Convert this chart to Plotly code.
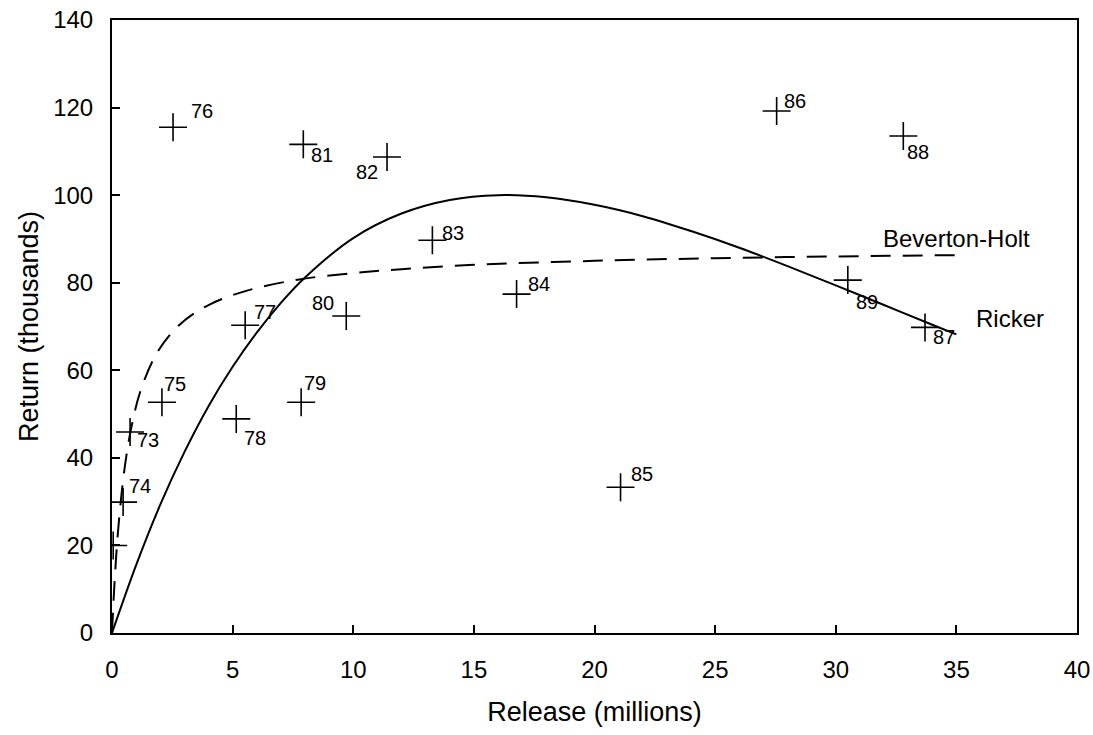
import plotly.graph_objects as go

# Observed points (release in millions, return in thousands), labelled by year
years = ["", "73", "74", "75", "76", "77", "78", "79", "80", "81", "82", "83", "84", "85", "86", "87", "88", "89"]
release = [0.05, 0.75, 0.46, 2.07, 2.53, 5.52, 5.15, 7.84, 9.71, 7.93, 11.4, 13.28, 16.77, 21.08, 27.55, 33.7, 32.8, 30.5]
ret = [20.0, 45.9, 29.9, 52.7, 115.5, 70.3, 48.9, 52.7, 72.4, 111.6, 108.7, 89.7, 77.4, 33.3, 119.2, 69.8, 113.5, 80.6]

# Ricker curve
ricker_x = [0, 1, 2, 3, 4, 5, 6, 7, 8, 10, 12, 14, 16, 18, 20, 22, 24, 26, 28, 30, 32, 34, 35]
ricker_y = [0, 15.5, 29.3, 41.3, 51.8, 60.8, 68.6, 75.4, 81.2, 90.2, 95.8, 98.9, 100.0, 99.5, 97.8, 95.2, 91.8, 88.0, 83.8, 79.4, 74.9, 70.4, 68.2]

# Beverton-Holt curve
bh_x = [0, 0.1, 0.25, 0.5, 0.8, 1.2, 1.9, 2.8, 4, 5.6, 7.7, 10, 12, 15, 20, 25, 30, 35]
bh_y = [0, 11.0, 23.2, 36.7, 46.9, 55.6, 64.3, 70.4, 74.9, 78.2, 80.7, 82.2, 83.1, 84.1, 85.0, 85.6, 86.0, 86.3]

# label offsets in pixels (dx, dy up)
label_offsets = {
    "73": (18, -8), "74": (17, 16), "75": (13, 18), "76": (29, 16), "77": (20, 13),
    "78": (19, -19), "79": (14, 19), "80": (-23, 13), "81": (19, -11), "82": (-20, -15),
    "83": (21, 7), "84": (22, 10), "85": (21, 13), "86": (18, 10), "87": (19, -10),
    "88": (15, -16), "89": (19, -22),
}

FONT = "Liberation Sans, Arial, sans-serif"

fig = go.Figure()
fig.add_trace(go.Scatter(x=ricker_x, y=ricker_y, mode="lines", line=dict(color="black", width=2, shape="spline"),
                         hoverinfo="skip", showlegend=False))
fig.add_trace(go.Scatter(x=bh_x, y=bh_y, mode="lines", line=dict(color="black", width=2, dash="20px,12px", shape="spline"),
                         hoverinfo="skip", showlegend=False))
fig.add_trace(go.Scatter(x=release, y=ret, mode="markers",
                         marker=dict(symbol="cross-thin", size=20, line=dict(color="black", width=1.6)),
                         showlegend=False))

for yr, xv, yv in zip(years, release, ret):
    if not yr:
        continue
    dx, dy = label_offsets[yr]
    fig.add_annotation(x=xv, y=yv, text=yr, showarrow=False, xshift=dx, yshift=dy,
                       font=dict(family=FONT, size=20, color="black"))

fig.add_annotation(x=ricker_x[-1], y=bh_y[-1], text="Beverton-Holt", showarrow=False, xshift=0, yshift=17,
                   font=dict(family=FONT, size=24, color="black"))
fig.add_annotation(x=ricker_x[-1], y=ricker_y[-1], text="Ricker", showarrow=False, xshift=54, yshift=16,
                   font=dict(family=FONT, size=24, color="black"))

fig.update_layout(
    width=1093, height=735,
    margin=dict(l=112, r=16, t=20, b=102, autoexpand=False),
    paper_bgcolor="white", plot_bgcolor="white",
    font=dict(family=FONT, size=24, color="black"),
    xaxis=dict(range=[0, 40], tickvals=[0, 5, 10, 15, 20, 25, 30, 35, 40], showgrid=False, zeroline=False,
               showline=True, linecolor="black", linewidth=2, mirror=True, automargin=False,
               ticks="inside", ticklen=8, tickwidth=1.5, tickcolor="black", ticklabeloverflow="allow",
               tickfont=dict(size=24), ticklabelstandoff=14,
               title=dict(text="Release (millions)", font=dict(size=27), standoff=20)),
    yaxis=dict(range=[0, 140], tickvals=[0, 20, 40, 60, 80, 100, 120, 140], showgrid=False, zeroline=False,
               showline=True, linecolor="black", linewidth=2, mirror=True, automargin=False,
               ticks="inside", ticklen=8, tickwidth=1.5, tickcolor="black", ticklabeloverflow="allow",
               tickfont=dict(size=24), ticklabelstandoff=12,
               title=dict(text="Return (thousands)", font=dict(size=27), standoff=7)),
)

# remove the browser's default page margin so the figure fills the window exactly
fig.write_html("out.html", config={"displayModeBar": False},
               post_script="document.body.style.margin='0';document.body.style.overflow='hidden';")
